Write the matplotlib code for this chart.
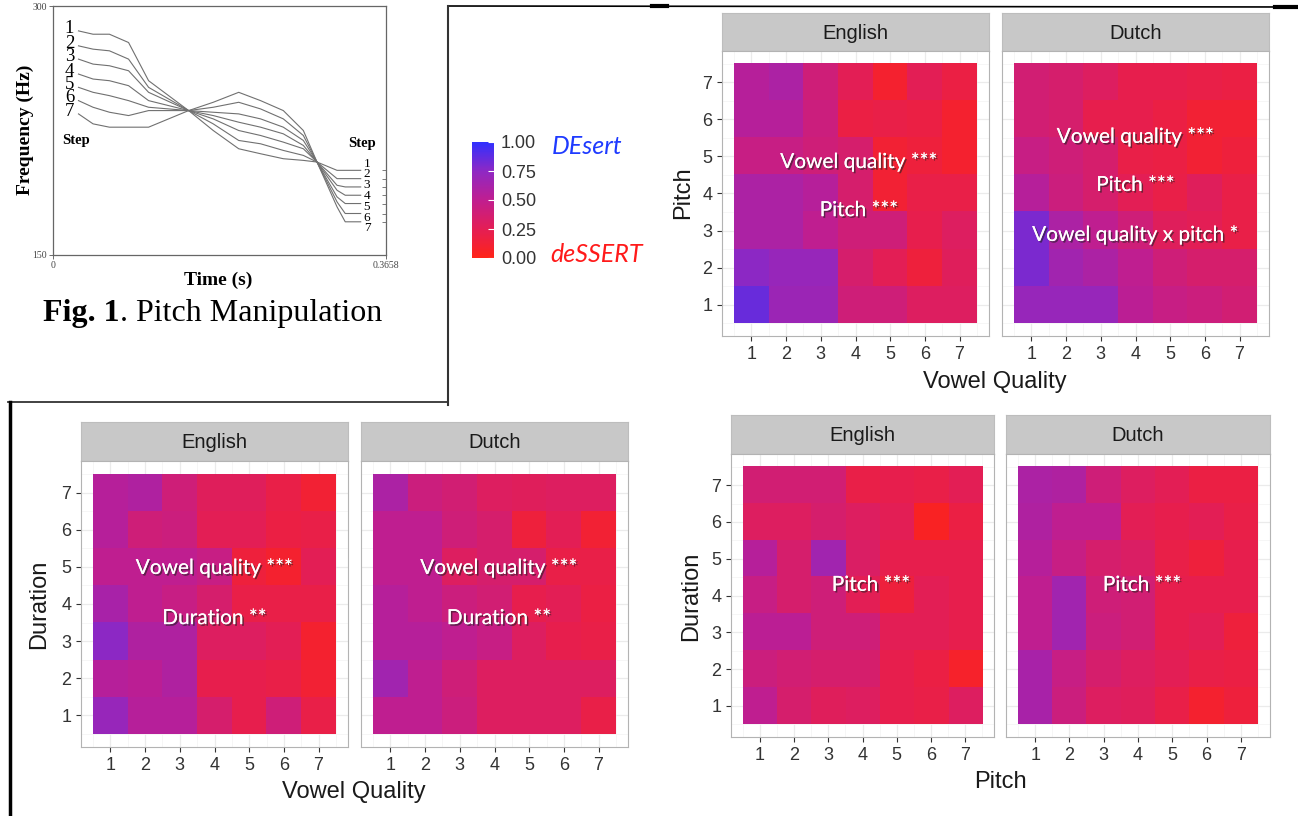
import numpy as np
import matplotlib
matplotlib.use('Agg')
import matplotlib.pyplot as plt
import matplotlib.patheffects as pe
from matplotlib.colors import LinearSegmentedColormap, Normalize
from matplotlib.cm import ScalarMappable

W, H = 1298, 816

# Fig. 1: resynthesised pitch contours (time in s, frequency in Hz)
time_s = [0.028, 0.044, 0.062, 0.083, 0.105, 0.149, 0.176, 0.204,
          0.228, 0.253, 0.275, 0.290, 0.312, 0.321, 0.338]
step_1 = [285, 283, 283, 278, 255, 237, 225, 214, 211, 208, 207, 206, 201, 201, 201]
step_2 = [276, 274, 273, 268, 251, 237, 229, 219, 217, 213, 210, 206, 196, 196, 196]
step_3 = [268, 265, 264, 261, 248, 237, 232, 225, 222, 218, 214, 206, 192, 191, 191]
step_4 = [259, 256, 255, 252, 243, 237, 234, 230, 227, 223, 216, 206, 189, 186, 186]
step_5 = [251, 248, 246, 243, 239, 237, 236, 235, 232, 227, 219, 206, 185, 181, 181]
step_6 = [243, 239, 236, 234, 237, 237, 239, 242, 238, 232, 222, 206, 182, 175, 175]
step_7 = [235, 229, 227, 227, 227, 237, 242, 248, 243, 237, 225, 206, 179, 170, 170]
steps = [step_1, step_2, step_3, step_4, step_5, step_6, step_7]
step_labels = ['1', '2', '3', '4', '5', '6', '7']

# proportion of DEsert responses, rows from level 7 (top) down to level 1
levels = [1, 2, 3, 4, 5, 6, 7]
vq_pitch_english = [
    [0.55, 0.60, 0.40, 0.25, 0.10, 0.25, 0.18],
    [0.55, 0.55, 0.42, 0.18, 0.20, 0.18, 0.10],
    [0.45, 0.45, 0.40, 0.35, 0.12, 0.15, 0.10],
    [0.60, 0.60, 0.55, 0.35, 0.12, 0.20, 0.20],
    [0.60, 0.60, 0.50, 0.40, 0.40, 0.22, 0.30],
    [0.75, 0.70, 0.70, 0.35, 0.25, 0.15, 0.28],
    [0.85, 0.68, 0.68, 0.40, 0.40, 0.30, 0.30],
]
vq_pitch_dutch = [
    [0.38, 0.35, 0.30, 0.22, 0.22, 0.20, 0.18],
    [0.38, 0.35, 0.22, 0.22, 0.18, 0.12, 0.12],
    [0.45, 0.40, 0.35, 0.20, 0.18, 0.12, 0.15],
    [0.55, 0.42, 0.35, 0.25, 0.20, 0.28, 0.20],
    [0.80, 0.60, 0.50, 0.40, 0.28, 0.25, 0.20],
    [0.80, 0.65, 0.60, 0.50, 0.40, 0.35, 0.35],
    [0.70, 0.70, 0.70, 0.52, 0.45, 0.42, 0.38],
]
vq_dur_english = [
    [0.55, 0.58, 0.40, 0.28, 0.28, 0.20, 0.12],
    [0.55, 0.40, 0.42, 0.25, 0.25, 0.18, 0.20],
    [0.50, 0.50, 0.50, 0.45, 0.15, 0.10, 0.25],
    [0.62, 0.50, 0.45, 0.35, 0.20, 0.20, 0.20],
    [0.75, 0.58, 0.58, 0.30, 0.30, 0.25, 0.10],
    [0.55, 0.52, 0.58, 0.22, 0.22, 0.20, 0.12],
    [0.70, 0.55, 0.55, 0.35, 0.22, 0.40, 0.20],
]
vq_dur_dutch = [
    [0.60, 0.42, 0.38, 0.30, 0.28, 0.30, 0.30],
    [0.50, 0.50, 0.40, 0.35, 0.15, 0.25, 0.12],
    [0.50, 0.50, 0.30, 0.35, 0.35, 0.20, 0.20],
    [0.55, 0.50, 0.42, 0.38, 0.22, 0.25, 0.18],
    [0.55, 0.55, 0.50, 0.45, 0.30, 0.22, 0.20],
    [0.65, 0.50, 0.40, 0.30, 0.30, 0.30, 0.30],
    [0.50, 0.50, 0.42, 0.30, 0.30, 0.30, 0.20],
]
pitch_dur_english = [
    [0.38, 0.38, 0.38, 0.20, 0.22, 0.20, 0.25],
    [0.30, 0.30, 0.35, 0.30, 0.25, 0.05, 0.18],
    [0.55, 0.35, 0.65, 0.32, 0.22, 0.22, 0.22],
    [0.45, 0.35, 0.40, 0.25, 0.15, 0.25, 0.22],
    [0.52, 0.52, 0.40, 0.40, 0.25, 0.25, 0.22],
    [0.42, 0.38, 0.35, 0.35, 0.22, 0.18, 0.08],
    [0.50, 0.35, 0.28, 0.30, 0.22, 0.20, 0.30],
]
pitch_dur_dutch = [
    [0.60, 0.58, 0.40, 0.30, 0.25, 0.18, 0.18],
    [0.58, 0.50, 0.50, 0.25, 0.22, 0.25, 0.20],
    [0.55, 0.45, 0.35, 0.32, 0.20, 0.15, 0.22],
    [0.50, 0.65, 0.40, 0.38, 0.22, 0.22, 0.22],
    [0.50, 0.65, 0.42, 0.38, 0.22, 0.25, 0.15],
    [0.62, 0.45, 0.35, 0.30, 0.25, 0.20, 0.18],
    [0.62, 0.42, 0.30, 0.28, 0.20, 0.10, 0.15],
]
cbar_ticks = [0.0, 0.25, 0.5, 0.75, 1.0]

cmap = LinearSegmentedColormap.from_list(
    'desert', [(0.0, '#FF2418'), (0.25, '#E41E55'), (0.5, '#C01E90'),
               (0.75, '#8E28C4'), (1.0, '#3030FF')])

SANS = 'Liberation Sans'
SERIF = 'Liberation Serif'
shadow = [pe.withSimplePatchShadow(offset=(1.2, -1.2), shadow_rgbFace='#202020', alpha=0.6),
          pe.Normal()]


def px_axes(fig, x0, y0, x1, y1):
    return fig.add_axes([x0 / W, 1 - y1 / H, (x1 - x0) / W, (y1 - y0) / H])


def draw_facet(fig, box, strip_bottom, grid, title, notes, show_y):
    x0, y0, x1, y1 = box
    strip = px_axes(fig, x0, y0, x1, strip_bottom)
    strip.set_facecolor('#C8C8C8')
    strip.set_xticks([])
    strip.set_yticks([])
    for s in strip.spines.values():
        s.set_color('#BDBDBD')
    strip.text(0.5, 0.47, title, transform=strip.transAxes, ha='center', va='center',
               fontsize=14.5, color='#1A1A1A', family=SANS)

    ax = px_axes(fig, x0, strip_bottom, x1, y1)
    ax.imshow(np.array(grid), cmap=cmap, vmin=0, vmax=1, extent=(0.5, 7.5, 0.5, 7.5),
              origin='upper', aspect='auto', interpolation='nearest', zorder=2)
    ax.set_xlim(0.15, 7.85)
    ax.set_ylim(0.15, 7.85)
    ax.set_xticks(levels)
    ax.set_yticks(levels)
    ax.set_xticks(np.arange(0.5, 8, 1), minor=True)
    ax.set_yticks(np.arange(0.5, 8, 1), minor=True)
    ax.grid(which='major', color='#EBEBEB', lw=0.9)
    ax.grid(which='minor', color='#F5F5F5', lw=0.6)
    ax.set_axisbelow(True)
    for s in ax.spines.values():
        s.set_color('#B3B3B3')
    ax.tick_params(which='major', length=3.6, width=0.8, color='#333333',
                   labelsize=13, labelcolor='#333333', pad=3.5)
    ax.tick_params(which='minor', length=0)
    for lab in ax.get_xticklabels() + ax.get_yticklabels():
        lab.set_family(SANS)
    if not show_y:
        ax.tick_params(axis='y', which='both', left=False, labelleft=False)
    for x, y, s in notes:
        ax.text(x, y, s, ha='center', va='center', color='white', fontsize=15,
                family='Lato', zorder=5, path_effects=shadow)
    return ax


fig = plt.figure(figsize=(W / 100, H / 100), dpi=100)

# full-figure layer in pixel units for frame rules and free labels
frame = fig.add_axes([0, 0, 1, 1])
frame.set_xlim(0, W)
frame.set_ylim(H, 0)
frame.axis('off')
frame.plot([448, 1298], [6, 7], color='black', lw=1.2)
frame.plot([652, 667], [6, 6], color='black', lw=3)
frame.plot([1275, 1298], [7, 7], color='black', lw=3)
frame.plot([448, 448], [6, 405], color='#333333', lw=1.5)
frame.plot([8, 448], [402, 402], color='#333333', lw=1.3)
frame.plot([10, 10], [402, 816], color='black', lw=2.5)

# Fig. 1 pitch manipulation
ax0 = px_axes(fig, 53, 6, 386, 255)
for hz in steps:
    ax0.plot(time_s, hz, color='#707070', lw=0.8)
ax0.set_xlim(0, 0.3658)
ax0.set_ylim(150, 300)
ax0.set_xticks([0, 0.3658])
ax0.set_xticklabels(['0', '0.3658'])
ax0.set_yticks([150, 300])
ax0.tick_params(length=3, width=0.6, color='#555555', labelsize=7, labelcolor='#444444', pad=1.5)
for lab in ax0.get_xticklabels() + ax0.get_yticklabels():
    lab.set_family(SERIF)
for s in ax0.spines.values():
    s.set_color('#666666')
    s.set_linewidth(0.9)
ax0r = ax0.twinx()
ax0r.set_ylim(150, 300)
ax0r.set_yticks([hz[-1] for hz in steps])
ax0r.tick_params(direction='in', length=3, width=0.6, color='#666666', labelright=False)
ax0r.spines[:].set_visible(False)
for lab, hz in zip(step_labels, steps):
    ax0.annotate(lab, xy=(time_s[0], hz[0]), xytext=(-6.5, 2), textcoords='offset points',
                 ha='center', va='center', fontsize=13.5, family=SERIF)
for lab, y in zip(step_labels, np.linspace(205, 166, 7)):
    ax0.text(0.3449, y, lab, ha='center', va='center', fontsize=9.5, family=SERIF)
ax0.text(0.0253, 218.7, 'Step', ha='center', va='center', fontsize=10.5,
         weight='bold', family=SERIF)
ax0.text(0.3394, 216.9, 'Step', ha='center', va='center', fontsize=10.5,
         weight='bold', family=SERIF)
frame.text(25, 130, 'Frequency (Hz)', rotation=90, ha='center', va='center',
           fontsize=14, weight='bold', family=SERIF)
frame.text(218, 280, 'Time (s)', ha='center', va='center', fontsize=14,
           weight='bold', family=SERIF)
fig_no = frame.text(43, 328, 'Fig. 1', ha='left', va='bottom', fontsize=23,
                    weight='bold', family=SERIF)
frame.annotate('. Pitch Manipulation', xy=(1, 0), xycoords=fig_no, ha='left',
               va='bottom', fontsize=23, family=SERIF)

# shared colour bar
cax = px_axes(fig, 472, 142, 494, 258)
cb = fig.colorbar(ScalarMappable(norm=Normalize(0, 1), cmap=cmap), cax=cax, ticks=cbar_ticks)
cb.outline.set_visible(False)
cb.ax.set_yticklabels([f'{t:.2f}' for t in cbar_ticks])
cax.tick_params(direction='in', color='white', length=4, width=0.8, labelsize=13,
                labelcolor='#333333', pad=5)
for lab in cax.get_yticklabels():
    lab.set_family(SANS)
frame.text(552, 147, 'DEsert', ha='left', va='center', fontsize=18, style='italic',
           color='#1F3BFF', family='Lato')
frame.text(550, 255, 'deSSERT', ha='left', va='center', fontsize=18, style='italic',
           color='#FF1A1A', family='Lato')

# Vowel quality x pitch
draw_facet(fig, (722, 13, 989, 336), 51, vq_pitch_english, 'English',
           [(4.1, 4.85, 'Vowel quality ***'), (4.1, 3.55, 'Pitch ***')], True)
draw_facet(fig, (1002, 13, 1269, 336), 51, vq_pitch_dutch, 'Dutch',
           [(4.0, 5.53, 'Vowel quality ***'), (4.0, 4.23, 'Pitch ***'),
            (4.0, 2.88, 'Vowel quality x pitch *')], False)
frame.text(683, 193, 'Pitch', rotation=90, ha='center', va='center', fontsize=17,
           color='#1A1A1A', family=SANS)
frame.text(995, 382, 'Vowel Quality', ha='center', va='center', fontsize=17,
           color='#1A1A1A', family=SANS)

# Vowel quality x duration
draw_facet(fig, (81, 422, 348, 747), 461, vq_dur_english, 'English',
           [(4.0, 4.97, 'Vowel quality ***'), (4.0, 3.62, 'Duration **')], True)
draw_facet(fig, (361, 422, 628, 747), 461, vq_dur_dutch, 'Dutch',
           [(4.13, 4.97, 'Vowel quality ***'), (4.13, 3.62, 'Duration **')], False)
frame.text(39, 604, 'Duration', rotation=90, ha='center', va='center', fontsize=17,
           color='#1A1A1A', family=SANS)
frame.text(354, 792, 'Vowel Quality', ha='center', va='center', fontsize=17,
           color='#1A1A1A', family=SANS)

# Pitch x duration
draw_facet(fig, (731, 415, 994, 737), 454, pitch_dur_english, 'English',
           [(4.25, 4.29, 'Pitch ***')], True)
draw_facet(fig, (1006, 415, 1270, 737), 454, pitch_dur_dutch, 'Dutch',
           [(4.12, 4.29, 'Pitch ***')], False)
frame.text(691, 596, 'Duration', rotation=90, ha='center', va='center', fontsize=17,
           color='#1A1A1A', family=SANS)
frame.text(1000, 782, 'Pitch', ha='center', va='center', fontsize=17,
           color='#1A1A1A', family=SANS)

fig.savefig('out.png', dpi=100)
